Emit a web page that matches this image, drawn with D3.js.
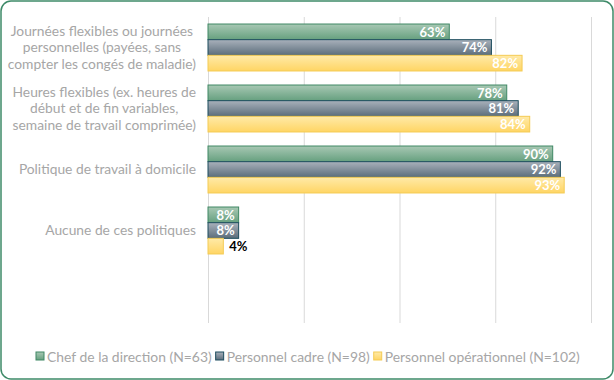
<!DOCTYPE html>
<html>
<head>
<meta charset="utf-8">
<script src="https://cdn.jsdelivr.net/npm/d3@7"></script>
<style>
	body { margin: 0; background: #fff; }
	svg { display: block; font-family: "Lato", "Open Sans", sans-serif; }
</style>
</head>
<body>
<div id="chart"></div>
<script>
const categories = [
	["Journées flexibles ou journées", "personnelles (payées, sans", "compter les congés de maladie)"],
	["Heures flexibles (ex. heures de", "début et de fin variables,", "semaine de travail comprimée)"],
	["Politique de travail à domicile"],
	["Aucune de ces politiques"]
];
const seriesNames = ["Chef de la direction (N=63)", "Personnel cadre (N=98)", "Personnel opérationnel (N=102)"];
const chefValues = [63, 78, 90, 8];
const cadreValues = [74, 81, 92, 8];
const operValues = [82, 84, 93, 4];
const xTicks = [0, 25, 50, 75, 100];

const width = 614, height = 380;
const plot = {left: 208, right: 591, top: 17, bottom: 323};
const labelColor = "#a6a6a6";

// colours per series: top, bottom, stroke
const palette = [
	{id: "g-chef", top: "#a8c8b4", bottom: "#66a07f", stroke: "#3f8864"},
	{id: "g-cadre", top: "#a9b1bb", bottom: "#5b6d7b", stroke: "#1d4d5e"},
	{id: "g-oper", top: "#ffeaa8", bottom: "#ffd564", stroke: "#f4cb55"}
];

const series = [chefValues, cadreValues, operValues];

const svg = d3.select("#chart").append("svg")
	.attr("width", width)
	.attr("height", height);

const defs = svg.append("defs");
palette.forEach(p => {
	const g = defs.append("linearGradient")
		.attr("id", p.id)
		.attr("x1", 0).attr("y1", 0).attr("x2", 0).attr("y2", 1);
	g.append("stop").attr("offset", "0%").attr("stop-color", p.top);
	g.append("stop").attr("offset", "100%").attr("stop-color", p.bottom);
});

// frame
svg.append("rect")
	.attr("x", 1).attr("y", 1)
	.attr("width", width - 2).attr("height", height - 2)
	.attr("rx", 10).attr("ry", 10)
	.attr("fill", "#fff")
	.attr("stroke", "#3e8a68")
	.attr("stroke-width", 1.5);

const x = d3.scaleLinear()
	.domain([0, 100])
	.range([plot.left, plot.right]);

const y = d3.scaleBand()
	.domain(d3.range(categories.length))
	.range([plot.top, plot.top + 61 * categories.length])
	.paddingInner(0.23)
	.paddingOuter(0.115);

const ySub = d3.scaleBand()
	.domain(d3.range(series.length))
	.range([0, y.bandwidth()]);

// gridlines
const xAxis = d3.axisBottom(x)
	.tickValues(xTicks)
	.tickSizeInner(-(plot.bottom - plot.top))
	.tickSizeOuter(0)
	.tickFormat(() => "");

const gX = svg.append("g")
	.attr("transform", "translate(0," + plot.bottom + ")")
	.call(xAxis);
gX.select(".domain").remove();
gX.selectAll("line").attr("stroke", "#d9d9d9");

// bars
series.forEach((vals, s) => {
	const p = palette[s];
	const g = svg.append("g");

	g.selectAll("rect")
		.data(vals)
		.join("rect")
		.attr("x", x(0))
		.attr("y", (d, i) => y(i) + ySub(s))
		.attr("width", d => x(d) - x(0))
		.attr("height", ySub.bandwidth())
		.attr("fill", "url(#" + p.id + ")")
		.attr("stroke", p.stroke)
		.attr("stroke-width", 1);

	g.selectAll("text")
		.data(vals)
		.join("text")
		.attr("x", d => d < 6 ? x(d) + 6 : x(d) - 4)
		.attr("y", (d, i) => y(i) + ySub(s) + ySub.bandwidth() / 2)
		.attr("dy", "0.36em")
		.attr("text-anchor", d => d < 6 ? "start" : "end")
		.attr("font-size", 13)
		.attr("font-weight", "bold")
		.attr("fill", d => d < 6 ? "#000" : "#fff")
		.text(d => d + "%");
});

// category labels, multi-line centred in a block right-aligned to the axis
const lineH = 16.5;
categories.forEach((lines, i) => {
	const g = svg.append("g");
	const cy = y(i) + y.bandwidth() / 2;
	const texts = g.selectAll("text")
		.data(lines)
		.join("text")
		.attr("y", (d, j) => cy + (j - (lines.length - 1) / 2) * lineH)
		.attr("dy", "0.35em")
		.attr("font-size", 13.8)
		.attr("fill", labelColor)
		.attr("text-anchor", "middle")
		.text(d => d);
	let maxW = 0;
	texts.each(function() { maxW = Math.max(maxW, this.getComputedTextLength()); });
	texts.attr("x", 196 - maxW / 2);
});

// legend
const legend = svg.append("g")
	.attr("transform", "translate(0,357)");
let lx = 36;
seriesNames.forEach((name, s) => {
	const p = palette[s];
	legend.append("rect")
		.attr("x", lx).attr("y", -5)
		.attr("width", 8).attr("height", 8)
		.attr("fill", "url(#" + p.id + ")")
		.attr("stroke", p.stroke);
	const t = legend.append("text")
		.attr("x", lx + 11)
		.attr("y", 0)
		.attr("dy", "0.35em")
		.attr("font-size", 13.9)
		.attr("fill", labelColor)
		.text(name);
	lx += 11 + t.node().getComputedTextLength() + 4;
});
</script>
</body>
</html>
